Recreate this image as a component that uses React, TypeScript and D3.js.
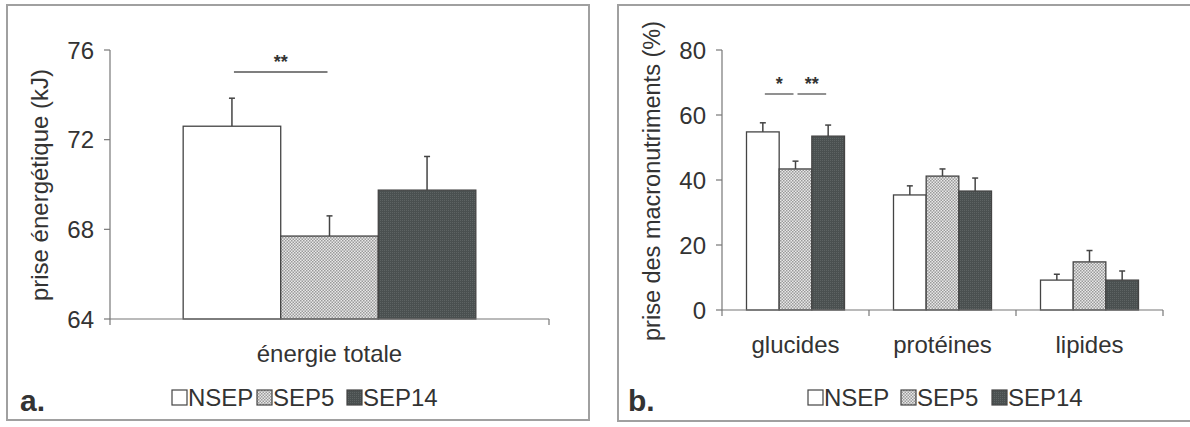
import React from "react";
import * as d3 from "d3";

const series = ["NSEP", "SEP5", "SEP14"];

// Panel a
const catsA = ["énergie totale"];
const meanA = [[72.6, 67.7, 69.75]];
const errA = [[73.85, 68.6, 71.25]];
const ticksA = [64, 68, 72, 76];

// Panel b
const catsB = ["glucides", "protéines", "lipides"];
const meanB = [
  [54.8, 43.4, 53.5],
  [35.4, 41.2, 36.6],
  [9.2, 14.8, 9.2],
];
const errB = [
  [57.6, 45.8, 56.9],
  [38.2, 43.4, 40.6],
  [11.0, 18.3, 12.0],
];
const ticksB = [0, 20, 40, 60, 80];

const FONT = "'Liberation Sans', Arial, sans-serif";
const TXT = "#333";
const AX = "#777";
const fills = ["#ffffff", "url(#patSEP5)", "url(#patSEP14)"];

function Panel(props: {
  frame: [number, number, number, number];
  x0: number; x1: number; y0: number; y1: number;
  domain: [number, number];
  ticks: number[];
  cats: string[];
  means: number[][];
  errs: number[][];
  ylabel: string;
  ylabelX: number;
  ylabelY: number;
  ylabelSize: number;
  letter: string;
  letterX: number;
  legendX: number;
  legendGaps: number[];
  catLabelY: number;
  sigs: { cat: number; from: number; to: number; label: string }[];
  sigY: number;
}) {
  const p = props;
  const y = d3.scaleLinear().domain(p.domain).range([p.y0, p.y1]);
  const xb = d3.scaleBand<string>().domain(p.cats).range([p.x0, p.x1]).paddingInner(0).paddingOuter(0);
  const inner = d3.scaleBand<string>().domain(series).range([0, xb.bandwidth() * (2 / 3)]);
  const off = xb.bandwidth() / 6;
  const [fx, fy, fw, fh] = p.frame;
  const boundaries = p.cats.map((c) => xb(c)!).concat([p.x1]);
  const cap = 3;
  return (
    <g>
      <rect x={fx} y={fy} width={fw} height={fh} fill="#fff" stroke="#a0a0a0" strokeWidth={2} />
      {/* y axis */}
      <line x1={p.x0} x2={p.x0} y1={y(p.domain[0])} y2={y(p.domain[1])} stroke={AX} strokeWidth={1.2} />
      {p.ticks.map((t) => (
        <g key={t}>
          <line x1={p.x0 - 6} x2={p.x0} y1={y(t)} y2={y(t)} stroke={AX} strokeWidth={1.2} />
          <text x={p.x0 - 16} y={y(t)} dy="0.36em" textAnchor="end" fontSize={24} fill={TXT} fontFamily={FONT}>
            {t}
          </text>
        </g>
      ))}
      <text
        transform={`translate(${p.ylabelX},${p.ylabelY}) rotate(-90)`}
        textAnchor="middle"
        dy="0.35em"
        fontSize={p.ylabelSize}
        fill={TXT}
        fontFamily={FONT}
      >
        {p.ylabel}
      </text>
      {/* bars */}
      {p.cats.map((c, ci) => (
        <g key={c}>
          {series.map((s, si) => {
            const bx = xb(c)! + off + inner(s)!;
            const bw = inner.bandwidth();
            const cx = bx + bw / 2;
            return (
              <g key={s}>
                <line x1={cx} x2={cx} y1={y(p.means[ci][si])} y2={y(p.errs[ci][si])} stroke="#444" strokeWidth={1.5} />
                <line x1={cx - cap} x2={cx + cap} y1={y(p.errs[ci][si])} y2={y(p.errs[ci][si])} stroke="#444" strokeWidth={1.5} />
                <rect
                  x={bx}
                  y={y(p.means[ci][si])}
                  width={bw}
                  height={y(p.domain[0]) - y(p.means[ci][si])}
                  fill={fills[si]}
                  stroke="#444"
                  strokeWidth={1.3}
                />
              </g>
            );
          })}
          <text x={xb(c)! + xb.bandwidth() / 2} y={p.catLabelY} textAnchor="middle" fontSize={24} fill={TXT} fontFamily={FONT}>
            {c}
          </text>
        </g>
      ))}
      {/* x axis */}
      <line x1={p.x0} x2={p.x1} y1={y(p.domain[0])} y2={y(p.domain[0])} stroke={AX} strokeWidth={1.2} />
      {boundaries.map((bx, i) => (
        <line key={i} x1={bx} x2={bx} y1={y(p.domain[0])} y2={y(p.domain[0]) + 6} stroke={AX} strokeWidth={1.2} />
      ))}
      {/* significance */}
      {p.sigs.map((g, i) => {
        const c = p.cats[g.cat];
        const a = xb(c)! + off + inner(series[g.from])! + inner.bandwidth() / 2;
        const b = xb(c)! + off + inner(series[g.to])! + inner.bandwidth() / 2;
        return (
          <g key={i}>
            <line x1={a + 2} x2={b - 2} y1={p.sigY} y2={p.sigY} stroke="#555" strokeWidth={1.3} />
            <text x={(a + b) / 2} y={p.sigY - 4} textAnchor="middle" fontSize={18} fontWeight="bold" fill={TXT} fontFamily={FONT}>
              {g.label}
            </text>
          </g>
        );
      })}
      {/* letter */}
      <text x={p.letterX} y={411} fontSize={30} fontWeight="bold" fill={TXT} fontFamily={FONT}>
        {p.letter}
      </text>
      {/* legend */}
      {series.map((s, i) => {
        const lx = p.legendX + p.legendGaps[i];
        return (
          <g key={s}>
            <rect x={lx + 1} y={390} width={15} height={15} fill={fills[i]} stroke="#444" strokeWidth={1.2} />
            <text x={lx + 17} y={406} fontSize={24} fill={TXT} fontFamily={FONT}>
              {s}
            </text>
          </g>
        );
      })}
    </g>
  );
}

export default function App() {
  return (
    <svg width={1190} height={427} style={{ position: "absolute", left: 0, top: 0 }}>
      <defs>
        <pattern id="patSEP5" width={3} height={3} patternUnits="userSpaceOnUse">
          <rect width={3} height={3} fill="#e8e8e8" />
          <rect width={1.5} height={1.5} fill="#9a9a9a" />
          <rect x={1.5} y={1.5} width={1.5} height={1.5} fill="#9a9a9a" />
        </pattern>
        <pattern id="patSEP14" width={2} height={2} patternUnits="userSpaceOnUse">
          <rect width={2} height={2} fill="#4a5050" />
          <rect width={1} height={1} fill="#5d6363" />
        </pattern>
      </defs>
      <rect width={1190} height={427} fill="#fff" />
      <Panel
        frame={[7, 5, 582, 415]}
        x0={110}
        x1={549}
        y0={319}
        y1={50}
        domain={[64, 76]}
        ticks={ticksA}
        cats={catsA}
        means={meanA}
        errs={errA}
        ylabel="prise énergétique (kJ)"
        ylabelX={40}
        ylabelY={185}
        ylabelSize={24}
        letter="a."
        letterX={20}
        legendX={171}
        legendGaps={[0, 85, 175]}
        catLabelY={362}
        sigs={[{ cat: 0, from: 0, to: 1, label: "**" }]}
        sigY={72}
      />
      <Panel
        frame={[618, 5, 580, 416]}
        x0={722}
        x1={1163}
        y0={310}
        y1={50}
        domain={[0, 80]}
        ticks={ticksB}
        cats={catsB}
        means={meanB}
        errs={errB}
        ylabel="prise des macronutriments (%)"
        ylabelX={652}
        ylabelY={181}
        ylabelSize={23.5}
        letter="b."
        letterX={628}
        legendX={807}
        legendGaps={[0, 93, 184]}
        catLabelY={353}
        sigs={[
          { cat: 0, from: 0, to: 1, label: "*" },
          { cat: 0, from: 1, to: 2, label: "**" },
        ]}
        sigY={94}
      />
    </svg>
  );
}
